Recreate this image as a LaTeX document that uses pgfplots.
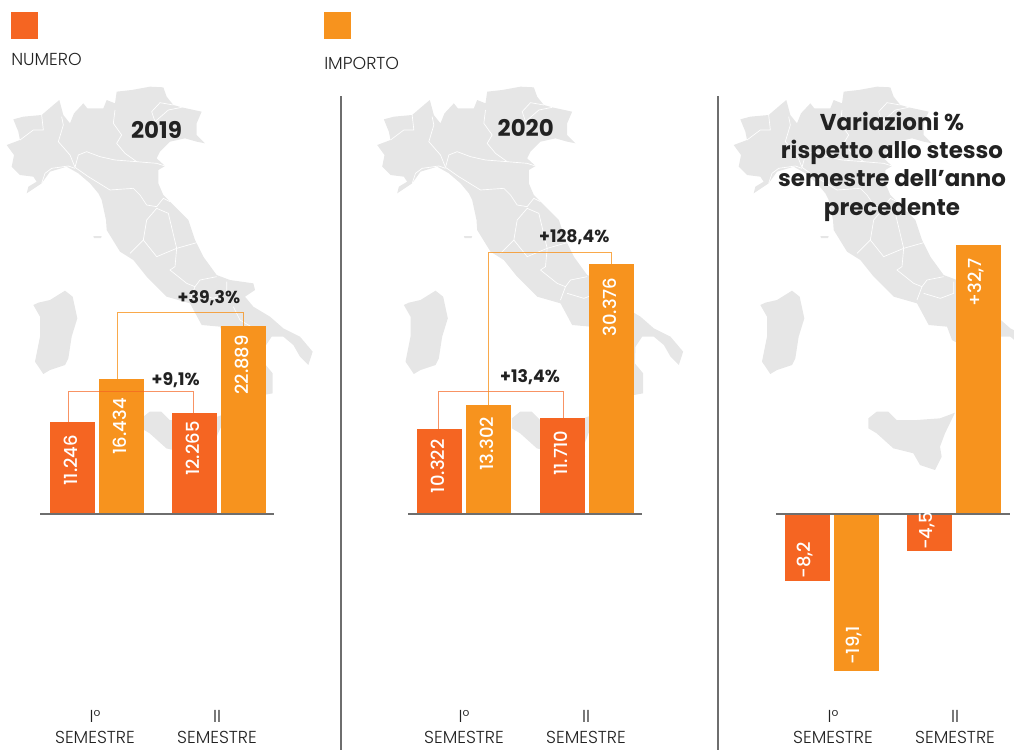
\documentclass[border=0pt]{standalone}
\usepackage{pgfplots}
\pgfplotsset{compat=1.18}
\usepackage{pgfplotstable}
\usepackage{fontspec}
\setmainfont{Poppins}
\newfontfamily\plight{Poppins Light}
\newfontfamily\pmed{Poppins Medium}
\definecolor{cnum}{HTML}{F56522}
\definecolor{cimp}{HTML}{F7931E}
\definecolor{cmap}{HTML}{E6E6E6}
\definecolor{ctxt}{HTML}{222222}
\definecolor{crule}{HTML}{6E6E6E}
% map outlines, in 3x pixel coordinates
\pgfplotstableread[row sep=\\]{x y\\40 118\\70 110\\125 105\\160 75\\178 60\\190 105\\210 130\\222 100\\250 70\\262 85\\285 85\\310 85\\320 60\\345 70\\350 35\\395 30\\450 20\\490 22\\500 50\\520 75\\545 82\\605 95\\590 130\\590 165\\615 190\\590 185\\555 175\\510 185\\480 215\\470 235\\495 258\\475 270\\475 310\\490 345\\530 385\\565 420\\585 480\\610 530\\650 585\\690 600\\760 610\\765 630\\735 650\\760 680\\810 710\\850 745\\900 770\\938 815\\925 855\\900 830\\880 795\\850 770\\815 770\\795 800\\793 850\\818 880\\818 940\\790 945\\750 930\\740 870\\710 800\\675 780\\660 740\\605 735\\570 670\\500 650\\440 590\\400 540\\360 515\\320 450\\318 420\\305 360\\295 340\\270 310\\235 280\\200 260\\150 275\\125 310\\80 340\\85 320\\110 305\\100 290\\60 285\\35 260\\42 225\\20 195\\60 180\\55 155\\}\mapmain
\pgfplotstableread[row sep=\\]{x y\\100 675\\115 668\\150 660\\195 632\\218 650\\232 715\\215 770\\205 835\\195 855\\150 870\\130 882\\105 845\\120 770\\120 710\\}\mapsard
\pgfplotstableread[row sep=\\]{x y\\424 1015\\449 995\\484 995\\509 1020\\569 1020\\639 1015\\684 998\\654 1060\\639 1100\\644 1130\\624 1170\\579 1155\\559 1120\\499 1105\\449 1060\\424 1045\\}\mapsic
\pgfplotstableread[row sep=\\]{x y\\280 468\\305 468\\303 474\\282 474\\}\mapelba
\pgfplotstableread[row sep=\\]{x y\\185 110\\190 135\\175 185\\210 225\\225 262\\}\rA
\pgfplotstableread[row sep=\\]{x y\\225 262\\235 225\\260 215\\300 230\\345 240\\410 245\\470 250\\495 258\\}\rB
\pgfplotstableread[row sep=\\]{x y\\345 90\\340 130\\365 165\\350 190\\375 220\\410 245\\}\rC
\pgfplotstableread[row sep=\\]{x y\\455 95\\480 68\\520 75\\}\rD
\pgfplotstableread[row sep=\\]{x y\\455 95\\465 125\\505 90\\545 82\\}\rE
\pgfplotstableread[row sep=\\]{x y\\225 262\\265 290\\330 330\\400 325\\420 345\\440 375\\470 380\\490 355\\510 365\\}\rF
\pgfplotstableread[row sep=\\]{x y\\470 385\\440 420\\430 480\\470 530\\530 505\\505 400\\470 385\\}\rG
\pgfplotstableread[row sep=\\]{x y\\430 480\\400 510\\390 520\\}\rH
\pgfplotstableread[row sep=\\]{x y\\530 505\\590 488\\}\rI
\pgfplotstableread[row sep=\\]{x y\\530 505\\525 560\\510 570\\560 610\\585 620\\600 600\\650 590\\}\rJ
\pgfplotstableread[row sep=\\]{x y\\585 620\\570 660\\}\rK
\pgfplotstableread[row sep=\\]{x y\\590 640\\640 655\\680 640\\680 605\\}\rL
\pgfplotstableread[row sep=\\]{x y\\700 680\\720 720\\770 750\\}\rM
\pgfplotstableread[row sep=\\]{x y\\125 310\\135 280\\155 265\\205 258\\225 265\\}\rN
\pgfplotstableread[row sep=\\]{x y\\60 180\\100 150\\130 150\\125 105\\}\rO
\newcommand\mapfill[2]{\addplot[fill=cmap,draw=none,forget plot] table[x expr=\thisrow{x}/3+#1,y expr=\thisrow{y}/3+80]{#2};}
\newcommand\mapline[2]{\addplot[draw=white,line width=0.5pt,no marks,forget plot] table[x expr=\thisrow{x}/3+#1,y expr=\thisrow{y}/3+80]{#2};}
\newcommand\italy[1]{%
 \mapfill{#1}{\mapmain}\mapfill{#1}{\mapsard}\mapfill{#1}{\mapsic}\mapfill{#1}{\mapelba}%
 \mapline{#1}{\rA}\mapline{#1}{\rB}\mapline{#1}{\rC}\mapline{#1}{\rD}\mapline{#1}{\rE}%
 \mapline{#1}{\rF}\mapline{#1}{\rG}\mapline{#1}{\rH}\mapline{#1}{\rI}\mapline{#1}{\rJ}%
 \mapline{#1}{\rK}\mapline{#1}{\rL}\mapline{#1}{\rM}\mapline{#1}{\rN}\mapline{#1}{\rO}}
% one bar: x centre, value, colour, anchor, label offset in px
\newcommand\vbar[5]{\addplot[ybar,bar width=33.75pt,bar shift=0pt,fill=#3,draw=none,forget plot,
  nodes near coords,point meta=y,
  every node near coord/.style={inner sep=0pt,xshift=-1.5pt,yshift=#5*0.75pt,rotate=90,anchor=#4,text=white,font=\pmed\fontsize{13.5}{15}\selectfont}]
  coordinates {(#1,#2)};}
\pgfplotsset{panel/.style={
  at={(0,495pt)},anchor=north west,
  scale only axis,width=760.5pt,height=462pt,xmin=0,xmax=1014,clip=false,
  axis line style={draw=none},tick style={draw=none},ytick=\empty,
  xticklabel style={align=center,font=\plight\fontsize{13}{15.7}\selectfont,text=ctxt,yshift=-3pt,inner sep=0pt},
  /pgf/number format/assume math mode=true}}
\newcommand\pct[3]{\node[anchor=base,inner sep=0pt,font=\fontsize{13}{15}\selectfont\bfseries,text=ctxt] at (axis cs:#1,#2) {#3};}
\newcommand\ttl[3]{\node[anchor=base,inner sep=0pt,font=\fontsize{17.2}{20}\selectfont\bfseries,text=ctxt] at (axis cs:#1,#2) {#3};}
\begin{document}
\begin{tikzpicture}
\useasboundingbox (0,0) rectangle (760.5pt,562.5pt);
% background: maps, legend, dividers
\begin{axis}[at={(0,0)},anchor=south west,hide axis,scale only axis,width=760.5pt,height=562.5pt,
  xmin=0,xmax=1014,ymin=0,ymax=750,y dir=reverse]
\italy{0}\italy{370.5}\italy{727}
\addplot[fill=cnum,draw=none] coordinates {(11,12)(38,12)(38,39)(11,39)};
\addplot[fill=cimp,draw=none] coordinates {(324,12)(351,12)(351,39)(324,39)};
\addplot[draw=crule,line width=1pt,no marks] coordinates {(341,96)(341,750)};
\addplot[draw=crule,line width=1pt,no marks] coordinates {(718,96)(718,750)};
\node[anchor=west,inner sep=0pt,text=ctxt,font=\plight\fontsize{13}{15}\selectfont] at (axis cs:11,59) {NUMERO};
\node[anchor=west,inner sep=0pt,text=ctxt,font=\plight\fontsize{13}{15}\selectfont] at (axis cs:324,63) {IMPORTO};
\end{axis}
% 2019
\begin{axis}[panel,ymin=-23358,ymax=51581,xtick={95,217},xticklabels={{I°\\SEMESTRE},{II\\SEMESTRE}},
  /pgf/number format/.cd,fixed,1000 sep={.}]
\vbar{72.5}{11246}{cnum}{east}{-13}
\vbar{121.5}{16434}{cimp}{east}{-19}
\vbar{194.5}{12265}{cnum}{east}{-8}
\vbar{243.5}{22889}{cimp}{east}{-9}
\addplot[draw=cnum,draw opacity=.7,line width=.8pt,no marks] coordinates {(68.7,11246)(68.7,14878)(193.7,14878)(193.7,12265)};
\addplot[draw=cimp,draw opacity=.8,line width=.8pt,no marks] coordinates {(117.3,16434)(117.3,24538)(243.7,24538)(243.7,22889)};
\addplot[draw=crule,line width=1.1pt,no marks] coordinates {(40,0)(274,0)};
\pct{209}{25633}{+39,3\%}
\pct{175.7}{15608}{+9,1\%}
\ttl{156.5}{45706}{2019}
\end{axis}
% 2020
\begin{axis}[panel,ymin=-23358,ymax=51581,xtick={464,586},xticklabels={{I°\\SEMESTRE},{II\\SEMESTRE}},
  /pgf/number format/.cd,fixed,1000 sep={.}]
\vbar{439.5}{10322}{cnum}{east}{-10}
\vbar{488.5}{13302}{cimp}{east}{-12}
\vbar{562.5}{11710}{cnum}{east}{-13}
\vbar{611.5}{30376}{cimp}{east}{-13}
\addplot[draw=cnum,draw opacity=.7,line width=.8pt,no marks] coordinates {(438.7,10322)(438.7,14878)(563.7,14878)(563.7,11710)};
\addplot[draw=cimp,draw opacity=.8,line width=.8pt,no marks] coordinates {(488.7,13302)(488.7,31837)(611.3,31837)(611.3,30376)};
\addplot[draw=crule,line width=1.1pt,no marks] coordinates {(408,0)(642,0)};
\pct{574.3}{33005}{+128,4\%}
\pct{530}{15973}{+13,4\%}
\ttl{525.7}{45900}{2020}
\end{axis}
% variations
\begin{axis}[panel,ymin=-23.358,ymax=51.581,xtick={833,955},xticklabels={{I°\\SEMESTRE},{II\\SEMESTRE}},
  /pgf/number format/.cd,fixed,fixed zerofill,precision=1,use comma,showpos]
\vbar{807.5}{-8.2}{cnum}{west}{3}
\vbar{856.5}{-19.1}{cimp}{west}{6}
\vbar{929.5}{-4.5}{cnum}{west}{0.8}
\vbar{978.5}{32.7}{cimp}{east}{-13}
\addplot[draw=crule,line width=1.1pt,no marks] coordinates {(776,0)(1010,0)};
\ttl{892}{46.63}{Variazioni \%}
\ttl{892}{43.19}{rispetto allo stesso}
\ttl{892}{39.82}{semestre dell’anno}
\ttl{892}{36.37}{precedente}
\end{axis}
\end{tikzpicture}
\end{document}
